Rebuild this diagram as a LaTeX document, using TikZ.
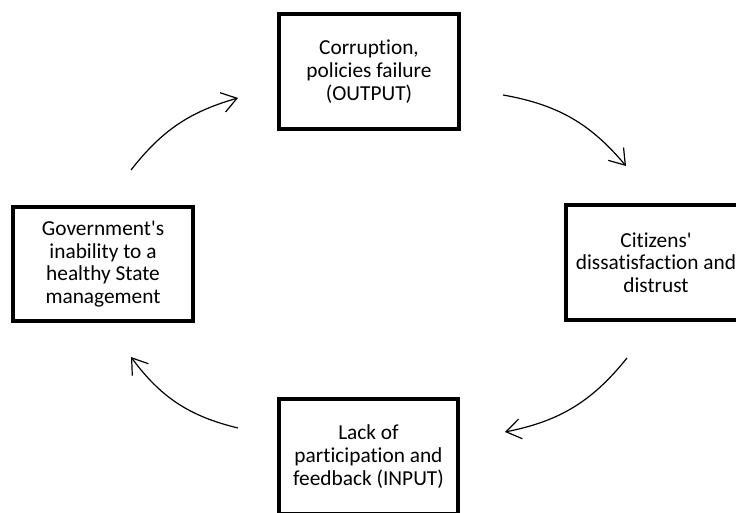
\documentclass[tikz,border=0pt]{standalone}
\usepackage{fontspec}
\setmainfont{Carlito}[Ligatures={NoCommon}]
\usetikzlibrary{arrows.meta}
\begin{document}
\begin{tikzpicture}[x=0.75pt,y=0.75pt,
  box/.style={draw=black,line width=3.2pt,minimum width=134.6pt,minimum height=85.9pt,align=center,
    font=\fontsize{16}{17}\selectfont,inner sep=0pt},
  cyc/.style={line width=0.9pt,-{Straight Barb[length=11pt,width=15pt,line width=0.9pt]},bend left=20}]
\useasboundingbox (0,0) rectangle (736,513);
\begin{scope}
\clip (0,0) rectangle (736,513);
\node[box] (top) at (369,441.5) {Corruption,\\policies failure\\(OUTPUT)};
\node[box] (right) at (656,250.5) {Citizens\textquotesingle\\dissatisfaction and\\distrust};
\node[box] (left) at (103,249) {Government\textquotesingle s\\inability to a\\healthy State\\management};
\node[box] (bottom) at (368.5,56.5) {Lack of\\participation and\\feedback (INPUT)};
\end{scope}
\coordinate (a1s) at (131,343);
\coordinate (a1e) at (238,415);
\coordinate (a2s) at (503,418);
\coordinate (a2e) at (626,347);
\coordinate (a3s) at (627,155);
\coordinate (a3e) at (505,81);
\coordinate (a4s) at (238,85);
\coordinate (a4e) at (131,156);
\draw[cyc,bend left=18] (a1s) to (a1e);
\draw[cyc] (a2s) to (a2e);
\draw[cyc] (a3s) to (a3e);
\draw[cyc] (a4s) to (a4e);
\end{tikzpicture}
\end{document}
